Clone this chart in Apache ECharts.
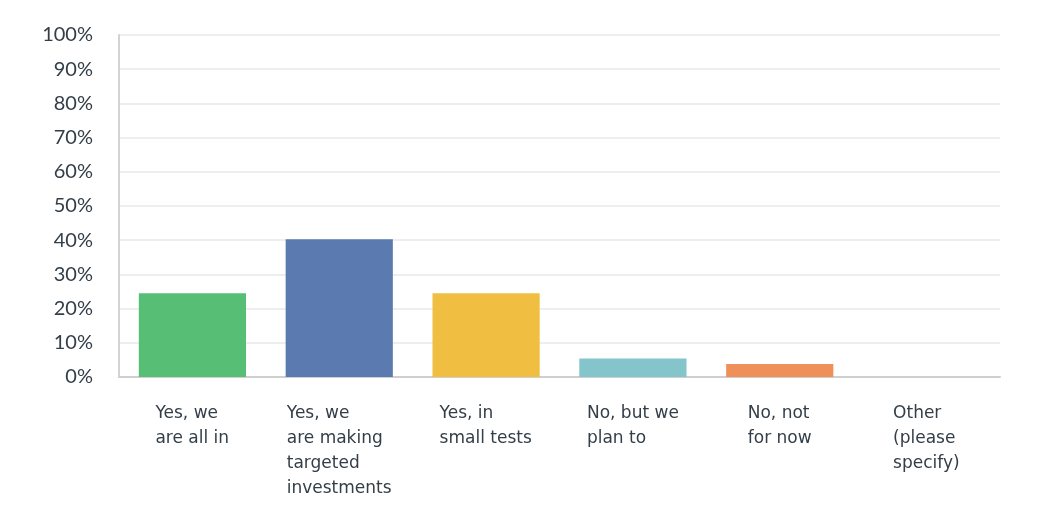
<!DOCTYPE html>
<html>
<head>
<meta charset="utf-8">
<script src="https://cdn.jsdelivr.net/npm/echarts@6/dist/echarts.min.js"></script>
<style>
  html, body { margin: 0; padding: 0; background: #fff; }
  #chart { width: 1038px; height: 522px; }
</style>
</head>
<body>
<div id="chart"></div>
<script>
// --- data ---
const categories = [
  'Yes, we\nare all in',
  'Yes, we\nare making\ntargeted\ninvestments',
  'Yes, in\nsmall tests',
  'No, but we\nplan to',
  'No, not\nfor now',
  'Other\n(please\nspecify)'
];
const values = [24.5, 40.3, 24.5, 5.4, 3.8, 0];
const barColors = ['#57BE75', '#5B7BB0', '#F0BF41', '#83C5CA', '#EF905B', '#A8A8A8'];
const yTicks = [0, 10, 20, 30, 40, 50, 60, 70, 80, 90, 100];

const labelFamily = 'DejaVu Sans';
const labelSize = 17;
const labelColor = '#333E48';

// labels are left aligned inside a block that sits centred under the bar,
// so each category gets a rich style as wide as its longest line
const measure = document.createElement('canvas').getContext('2d');
measure.font = labelSize + 'px "' + labelFamily + '"';
const rich = {};
categories.forEach((c, i) => {
  const w = Math.max(...c.split('\n').map(l => measure.measureText(l).width));
  rich['c' + i] = {
    width: Math.ceil(w),
    align: 'left',
    fontSize: labelSize,
    fontFamily: labelFamily,
    color: labelColor,
    lineHeight: 25
  };
});

const chart = echarts.init(document.getElementById('chart'));

const option = {
  backgroundColor: '#FFFFFF',
  animation: false,
  grid: { left: 119, right: 38, top: 35, bottom: 145 },
  xAxis: {
    type: 'category',
    data: categories,
    axisLine: { lineStyle: { color: '#CFCFCF', width: 2 } },
    axisTick: { show: false },
    axisLabel: {
      interval: 0,
      margin: 24,
      align: 'center',
      verticalAlign: 'top',
      formatter: (value, idx) =>
        value.split('\n').map(l => `{c${idx}|${l}}`).join('\n'),
      rich: rich
    }
  },
  yAxis: {
    type: 'value',
    min: yTicks[0],
    max: yTicks[yTicks.length - 1],
    interval: 10,
    axisLine: { show: true, lineStyle: { color: '#D3D3D3', width: 2 } },
    axisTick: { show: false },
    splitLine: { lineStyle: { color: '#EEEEEE', width: 2 } },
    axisLabel: {
      margin: 26,
      fontSize: 20,
      fontFamily: 'Lato',
      color: labelColor,
      formatter: v => v + '%'
    }
  },
  series: [
    {
      type: 'bar',
      barCategoryGap: '27%',
      data: values.map((v, i) => ({
        value: v,
        itemStyle: { color: barColors[i] }
      }))
    }
  ]
};

chart.setOption(option);
</script>
</body>
</html>
